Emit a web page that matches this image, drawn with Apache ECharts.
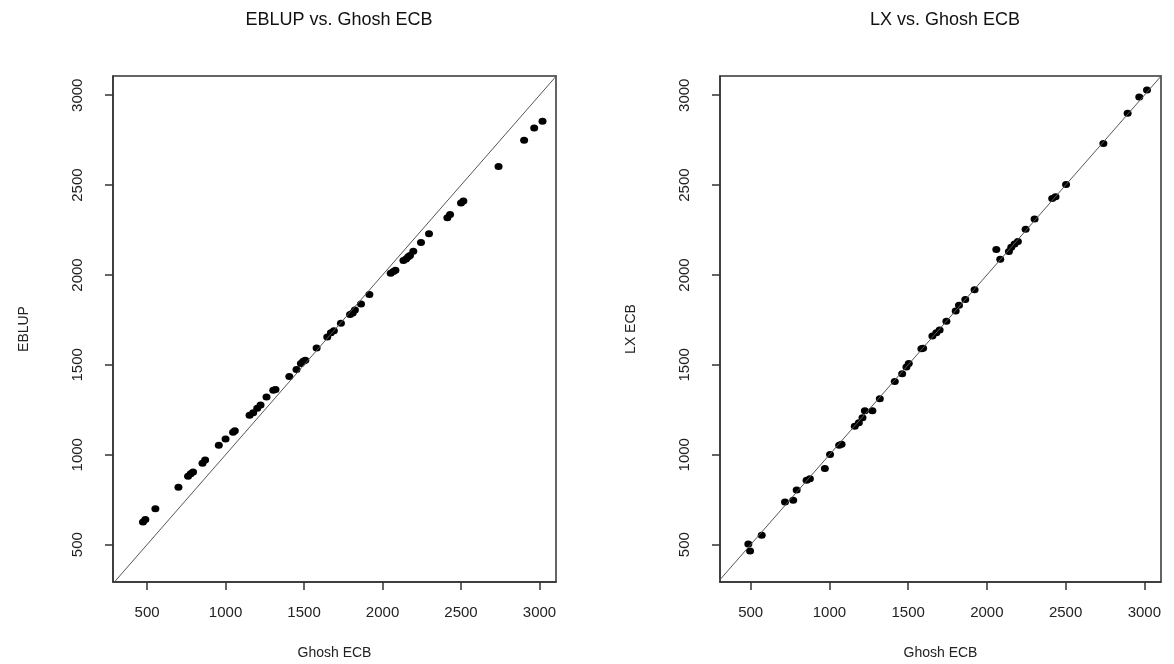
<!DOCTYPE html>
<html lang="en">
<head>
    <meta charset="UTF-8">
    <title>EBLUP / LX vs. Ghosh ECB</title>
    <script src="https://cdn.jsdelivr.net/npm/echarts@6/dist/echarts.min.js"></script>
    <style>
        body { margin: 0; background: #fff; }
        #main { width: 1174px; height: 664px; }
    </style>
</head>
<body>
<div id="main"></div>
<script>
    // left panel: Ghosh ECB (x) vs EBLUP (y)
    var ghoshLeft = [474, 489, 553, 700, 761, 778, 793, 853, 870, 957, 1000, 1048, 1059,
        1153, 1176, 1202, 1223, 1261, 1304, 1318, 1406, 1452, 1480, 1495, 1508, 1580,
        1648, 1671, 1690, 1735, 1793, 1810, 1824, 1863, 1916, 2052, 2069, 2082, 2133,
        2150, 2164, 2175, 2196, 2245, 2296, 2413, 2430, 2500, 2515, 2739, 2902, 2966, 3019];
    var eblup = [626, 640, 699, 819, 881, 894, 904, 953, 971, 1053, 1087, 1125, 1133,
        1219, 1234, 1259, 1277, 1321, 1359, 1363, 1435, 1474, 1508, 1520, 1525, 1594,
        1655, 1678, 1690, 1732, 1780, 1789, 1805, 1839, 1891, 2009, 2019, 2026, 2080,
        2089, 2101, 2109, 2132, 2181, 2229, 2319, 2336, 2401, 2411, 2604, 2749, 2818, 2855];

    // right panel: Ghosh ECB (x) vs LX ECB (y)
    var ghoshRight = [485, 496, 570, 718, 770, 792, 855, 876, 971, 1004, 1062, 1077,
        1161, 1187, 1210, 1225, 1273, 1320, 1415, 1462, 1489, 1504, 1584, 1595, 1654,
        1679, 1700, 1743, 1802, 1823, 1863, 1922, 2060, 2085, 2140, 2155, 2176, 2197,
        2246, 2303, 2415, 2436, 2503, 2740, 2894, 2968, 3017];
    var lxecb = [504, 464, 552, 737, 747, 804, 858, 866, 923, 1001, 1053, 1059,
        1158, 1178, 1206, 1245, 1245, 1312, 1407, 1451, 1488, 1507, 1589, 1593, 1660,
        1679, 1694, 1742, 1800, 1832, 1863, 1918, 2142, 2087, 2131, 2154, 2173, 2186,
        2255, 2311, 2426, 2435, 2504, 2732, 2900, 2990, 3029];

    // y = x reference line
    var diagonal = [[0, 0], [3300, 3300]];
    var tickValues = [500, 1000, 1500, 2000, 2500, 3000];

    function pairs(xs, ys) {
        var out = [];
        for (var i = 0; i < xs.length; i++) out.push([xs[i], ys[i]]);
        return out;
    }

    var font = 'Liberation Sans, Arial, sans-serif';
    var plain = function (v) { return String(v); };

    function xAx(idx, min, max) {
        return {
            gridIndex: idx, type: 'value', min: min, max: max,
            name: 'Ghosh ECB', nameLocation: 'middle', nameGap: 64,
            nameTextStyle: { fontFamily: font, fontSize: 14, color: '#222' },
            axisLine: { show: true, onZero: false, lineStyle: { color: '#333', width: 1.5 } },
            axisTick: { show: true, length: 8, lineStyle: { color: '#333', width: 1.5 },
                customValues: tickValues },
            axisLabel: { fontFamily: font, fontSize: 15, color: '#222', margin: 23,
                customValues: tickValues, formatter: plain },
            splitLine: { show: false }
        };
    }

    function yAx(idx, min, max, name) {
        return {
            gridIndex: idx, type: 'value', min: min, max: max,
            name: name, nameLocation: 'middle', nameGap: 82,
            nameTextStyle: { fontFamily: font, fontSize: 14, color: '#222' },
            axisLine: { show: true, onZero: false, lineStyle: { color: '#333', width: 1.5 } },
            axisTick: { show: true, length: 8, lineStyle: { color: '#333', width: 1.5 },
                customValues: tickValues },
            axisLabel: { fontFamily: font, fontSize: 15, color: '#222', margin: 28, rotate: 90,
                customValues: tickValues, formatter: plain },
            splitLine: { show: false }
        };
    }

    var chartDom = document.getElementById('main');
    var myChart = echarts.init(chartDom);
    var option = {
        backgroundColor: '#fff',
        animation: false,
        title: [
            { text: 'EBLUP vs. Ghosh ECB', left: 334, top: 6, textAlign: 'center',
                textStyle: { fontFamily: font, fontSize: 18, fontWeight: 'normal', color: '#111' } },
            { text: 'LX vs. Ghosh ECB', left: 940, top: 6, textAlign: 'center',
                textStyle: { fontFamily: font, fontSize: 18, fontWeight: 'normal', color: '#111' } }
        ],
        grid: [
            { left: 113, top: 76, width: 443, height: 506, outerBoundsMode: 'none',
                show: true, borderColor: '#333', borderWidth: 1.5, backgroundColor: 'transparent' },
            { left: 720, top: 76, width: 441, height: 506, outerBoundsMode: 'none',
                show: true, borderColor: '#333', borderWidth: 1.5, backgroundColor: 'transparent' }
        ],
        xAxis: [xAx(0, 283, 3105), xAx(1, 305, 3106)],
        yAxis: [yAx(0, 292, 3107, 'EBLUP'), yAx(1, 292, 3107, 'LX ECB')],
        series: [
            { type: 'line', xAxisIndex: 0, yAxisIndex: 0, data: diagonal, symbol: 'none',
                lineStyle: { color: '#555', width: 1 }, clip: true },
            { type: 'line', xAxisIndex: 1, yAxisIndex: 1, data: diagonal, symbol: 'none',
                lineStyle: { color: '#555', width: 1 }, clip: true },
            { type: 'scatter', xAxisIndex: 0, yAxisIndex: 0, data: pairs(ghoshLeft, eblup),
                symbol: 'circle', symbolSize: [8, 7], itemStyle: { color: '#000', opacity: 1 } },
            { type: 'scatter', xAxisIndex: 1, yAxisIndex: 1, data: pairs(ghoshRight, lxecb),
                symbol: 'circle', symbolSize: [8, 7], itemStyle: { color: '#000', opacity: 1 } }
        ]
    };
    option && myChart.setOption(option);
</script>
</body>
</html>
